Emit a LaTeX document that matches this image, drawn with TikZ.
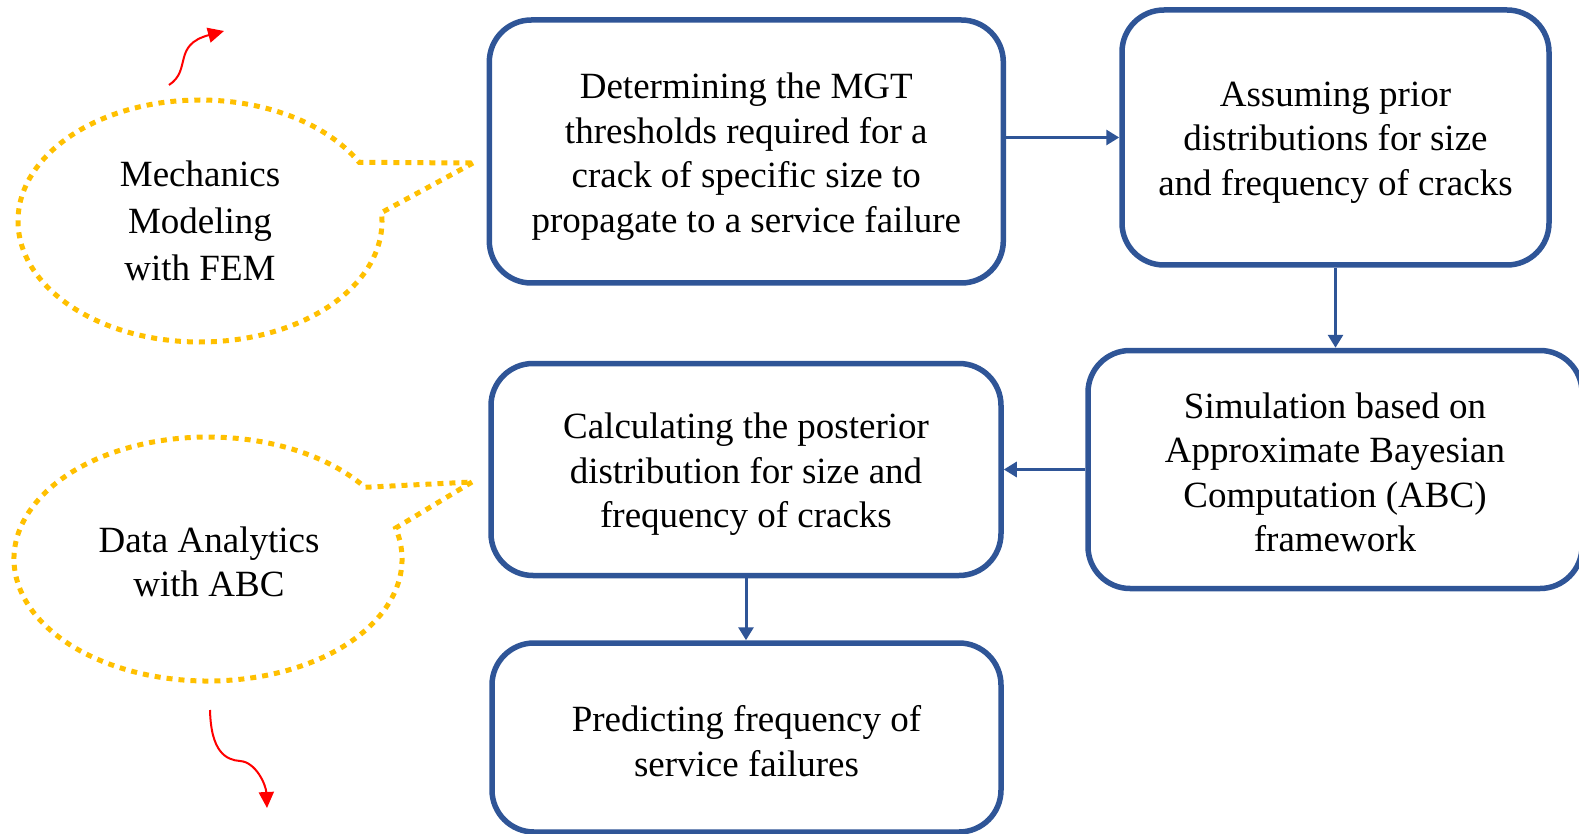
\documentclass[tikz,border=0pt]{standalone}
\usepackage{fontspec}
\setmainfont{Liberation Serif}
\usetikzlibrary{arrows.meta,calc}
\definecolor{boxblue}{RGB}{47,85,151}
\definecolor{calloutyellow}{RGB}{255,192,0}
\definecolor{arrowred}{RGB}{255,0,0}
\begin{document}
\begin{tikzpicture}[x=1pt,y=-1pt,
  box/.style={draw=boxblue, line width=5.5pt, rounded corners=42pt, inner sep=0pt},
  boxtext/.style={align=center, inner sep=0pt, font=\fontsize{37}{44.5}\selectfont},
  flow/.style={draw=boxblue, line width=3pt, -{Triangle[length=13pt,width=15pt]}},
  callout/.style={draw=calloutyellow, line width=5pt, dash pattern=on 6pt off 6pt},
  callouttext/.style={align=center, font=\fontsize{37}{47}\selectfont},
  redarrow/.style={draw=arrowred, line width=2pt, -{Triangle[length=16pt,width=15pt]}}]
\useasboundingbox (0,0) rectangle (1579,834);
\clip (0,0) rectangle (1579,834);
% boxes
\node[box, minimum width=514pt, minimum height=263pt] (mgt) at (746.3,151.5) {};
\node[boxtext] (mgtt) at ($(mgt.center)+(0,5)$)
  {Determining the MGT\\thresholds required for a\\crack of specific size to\\propagate to a service failure};
\node[box, minimum width=427pt, minimum height=255pt] (prior) at (1335.5,137.5) {};
\node[boxtext] (priort) at ($(prior.center)+(0,5)$)
  {Assuming prior\\distributions for size\\and frequency of cracks};
\node[box, minimum width=494pt, minimum height=238pt] (sim) at (1335,469.5) {};
\node[boxtext] (simt) at ($(sim.center)+(0,3)$)
  {Simulation based on\\Approximate Bayesian\\Computation (ABC)\\framework};
\node[box, minimum width=510pt, minimum height=212pt] (post) at (746,469.5) {};
\node[boxtext] (postt) at ($(post.center)+(0,5)$)
  {Calculating the posterior\\distribution for size and\\frequency of cracks};
\node[box, minimum width=509pt, minimum height=189pt] (pred) at (746.5,737.5) {};
\node[boxtext] (predt) at ($(pred.center)+(0,3.5)$)
  {Predicting frequency of\\service failures};
% connectors
\draw[flow] (mgt.east |- prior.west) -- (prior.west);
\draw[flow] (prior.south) -- (prior.south |- sim.north);
\draw[flow] (sim.west) -- (post.east);
\draw[flow] (post.south) -- (post.south |- pred.north);
% callouts
\draw[callout] (473,163) -- ($(200,221)+(-4:182 and 121)$)
  arc[start angle=-4, end angle=331, x radius=182, y radius=121] -- cycle;
\node[callouttext] (mech) at (200,221) {Mechanics\\Modeling\\with FEM};
\draw[callout] (472,482) -- ($(208,559)+(-14.7:194 and 122)$)
  arc[start angle=-14.7, end angle=324, x radius=194, y radius=122] -- cycle;
\node[callouttext, font=\fontsize{37}{44}\selectfont] (data) at (209,562) {Data Analytics\\with ABC};
% red arrows
\coordinate (r1s) at (169,85);
\coordinate (r1e) at (224,31);
\coordinate (r2s) at (210,710);
\coordinate (r2m) at (240,761);
\coordinate (r2e) at (267,808);
\draw[redarrow] (r1s) .. controls (192,70) and (172,45) .. (r1e);
\draw[redarrow] (r2s) .. controls (211,752) and (226,760) .. (r2m) .. controls (256,762) and (266,785) .. (r2e);
\end{tikzpicture}
\end{document}
